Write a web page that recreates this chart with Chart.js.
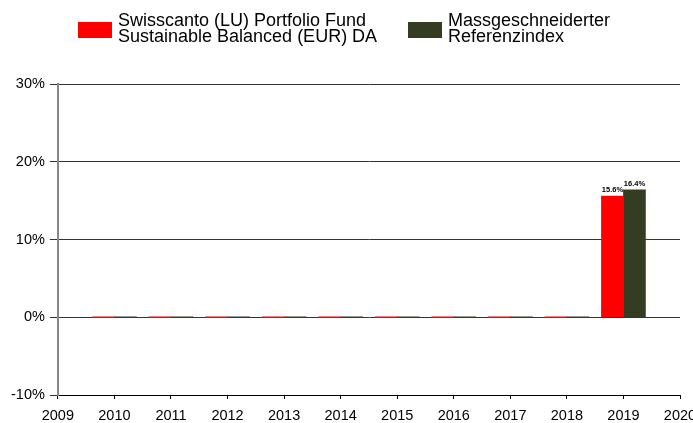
<!DOCTYPE html>
<html>
<head>
<meta charset="utf-8">
<script src="https://cdn.jsdelivr.net/npm/chart.js@4/dist/chart.umd.min.js"></script>
<style>
html,body{margin:0;padding:0;background:#fff;}
#wrap{width:693px;height:423px;}
</style>
</head>
<body>
<div id="wrap"><canvas id="c" width="693" height="423"></canvas></div>
<script>
const years = ['2009','2010','2011','2012','2013','2014','2015','2016','2017','2018','2019','2020'];
const fundValues = [null,0,0,0,0,0,0,0,0,0,15.6,null];
const indexValues = [null,0,0,0,0,0,0,0,0,0,16.4,null];
const fundLabel = ['Swisscanto (LU) Portfolio Fund','Sustainable Balanced (EUR) DA'];
const indexLabel = ['Massgeschneiderter','Referenzindex'];
const yTicks = [-10,0,10,20,30];

const FONT = '"Liberation Sans", Arial, sans-serif';

const legendPlugin = {
  id: 'customLegend',
  afterDraw(chart) {
    const ctx = chart.ctx;
    const starts = [78, 408];
    ctx.save();
    chart.data.datasets.forEach((ds, i) => {
      const x = starts[i];
      ctx.fillStyle = ds.backgroundColor;
      ctx.fillRect(x, 22, 34, 16);
      ctx.fillStyle = '#000';
      ctx.font = '18px ' + FONT;
      ctx.textBaseline = 'alphabetic';
      ctx.textAlign = 'left';
      ds.legendLines.forEach((t, j) => {
        ctx.fillText(t, x + 40, 26 + j * 16);
      });
    });
    ctx.restore();
  }
};

const valueLabelPlugin = {
  id: 'valueLabels',
  afterDatasetsDraw(chart) {
    const ctx = chart.ctx;
    ctx.save();
    ctx.font = 'bold 7.5px ' + FONT;
    ctx.fillStyle = '#000';
    ctx.textAlign = 'center';
    ctx.textBaseline = 'bottom';
    chart.data.datasets.forEach((ds, i) => {
      const meta = chart.getDatasetMeta(i);
      meta.data.forEach((bar, j) => {
        const v = ds.data[j];
        if (v === null || v === 0) return;
        ctx.fillText(v.toFixed(1) + '%', bar.x, bar.y - 2);
      });
    });
    ctx.restore();
  }
};

new Chart(document.getElementById('c'), {
  type: 'bar',
  data: {
    labels: years,
    datasets: [
      { label: fundLabel.join(' '), legendLines: fundLabel, data: fundValues, backgroundColor: '#ff0000', barThickness: 22, minBarLength: 1, borderWidth: 0 },
      { label: indexLabel.join(' '), legendLines: indexLabel, data: indexValues, backgroundColor: '#343d21', barThickness: 22, minBarLength: 1, borderWidth: 0 }
    ]
  },
  options: {
    responsive: false,
    animation: false,
    events: [],
    layout: { padding: { top: 84, left: 6, right: 13, bottom: 0 } },
    plugins: { legend: { display: false }, tooltip: { enabled: false } },
    scales: {
      x: {
        offset: false,
        grid: { display: true, drawOnChartArea: false, offset: false, color: '#000', tickLength: 4 },
        border: { display: true, color: '#000', width: 1 },
        ticks: { color: '#000', font: { family: FONT, size: 14.5 }, padding: 8, maxRotation: 0, autoSkip: false },
        afterFit(s) { s.paddingLeft = 0; s.paddingRight = 0; s.height = 28; }
      },
      y: {
        min: -10, max: 30,
        afterBuildTicks(s) { s.ticks = yTicks.map(v => ({ value: v })); },
        grid: { color: '#333', tickLength: 8, lineWidth: 1 },
        border: { display: true, color: '#888', width: 2 },
        ticks: { color: '#000', font: { family: FONT, size: 14.5 }, padding: 5, callback: v => v + '%' },
        afterFit(s) { s.paddingTop = 0; s.paddingBottom = 0; }
      }
    }
  },
  plugins: [legendPlugin, valueLabelPlugin]
});
</script>
</body>
</html>
